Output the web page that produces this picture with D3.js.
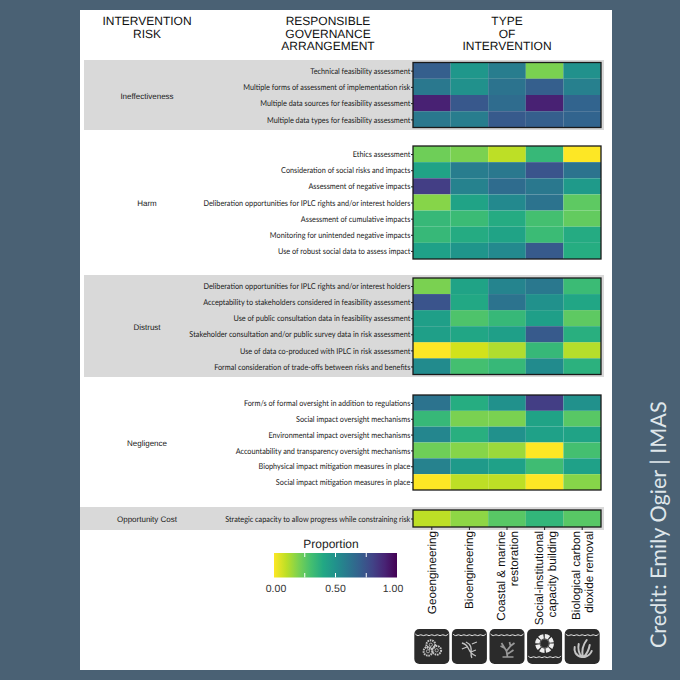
<!doctype html>
<html>
<head>
<meta charset="utf-8">
<title>Intervention risk heatmap</title>
<style>
* {padding:0;margin:0}
body {background:#4a6174;overflow:hidden}
svg text {text-rendering:geometricPrecision}
</style>
</head>
<body>
<div id="chart"></div>
<script src="https://d3js.org/d3.v7.min.js"></script>
<script>
	const interventions = ["Geoengineering", "Bioengineering", "Coastal & marine|restoration", "Social-institutional|capacity building", "Biological carbon|dioxide removal"];

	const ineffectivenessRows = ["Technical feasibility assessment", "Multiple forms of assessment of implementation risk", "Multiple data sources for feasibility assessment", "Multiple data types for feasibility assessment"];
	const ineffectivenessValues = [
		[.70, .47, .58, .20, .50],
		[.60, .50, .62, .70, .57],
		[.91, .73, .65, .91, .68],
		[.60, .58, .72, .70, .68]];

	const harmRows = ["Ethics assessment", "Consideration of social risks and impacts", "Assessment of negative impacts", "Deliberation opportunities for IPLC rights and/or interest holders", "Assessment of cumulative impacts", "Monitoring for unintended negative impacts", "Use of robust social data to assess impact"];
	const harmValues = [
		[.22, .20, .10, .33, .00],
		[.42, .58, .60, .74, .62],
		[.82, .56, .65, .60, .46],
		[.18, .42, .53, .62, .25],
		[.33, .32, .39, .30, .24],
		[.33, .39, .42, .32, .39],
		[.43, .48, .53, .72, .38]];

	const distrustRows = ["Deliberation opportunities for IPLC rights and/or interest holders", "Acceptability to stakeholders considered in feasibility assessment", "Use of public consultation data in feasibility assessment", "Stakeholder consultation and/or public survey data in risk assessment", "Use of data co-produced with IPLC in risk assessment", "Formal consideration of trade-offs between risks and benefits"];
	const distrustValues = [
		[.20, .42, .55, .60, .32],
		[.74, .40, .62, .50, .41],
		[.44, .28, .33, .44, .25],
		[.44, .41, .44, .72, .37],
		[.00, .07, .12, .33, .11],
		[.52, .30, .33, .52, .36]];

	const negligenceRows = ["Form/s of formal oversight in addition to regulations", "Social impact oversight mechanisms", "Environmental impact oversight mechanisms", "Accountability and transparency oversight mechanisms", "Biophysical impact mitigation measures in place", "Social impact mitigation measures in place"];
	const negligenceValues = [
		[.62, .38, .50, .82, .50],
		[.33, .20, .20, .42, .26],
		[.54, .37, .50, .43, .42],
		[.22, .18, .15, .00, .30],
		[.56, .46, .43, .31, .43],
		[.00, .10, .10, .00, .18]];

	const opportunityRows = ["Strategic capacity to allow progress while constraining risk"];
	const opportunityValues = [[.10, .17, .26, .34, .26]];

	const legendTicks = [0, .25, .5, .75, 1];
	const legendLabels = [0, .5, 1];

	// panel layout, data stays in the arrays above
	const panels = [
		{name: "Ineffectiveness", rows: ineffectivenessRows, values: ineffectivenessValues, top: 62.5, bottom: 127.5, band: [60, 130], bandLeft: 84},
		{name: "Harm", rows: harmRows, values: harmValues, top: 146, bottom: 259},
		{name: "Distrust", rows: distrustRows, values: distrustValues, top: 278, bottom: 374.5, band: [275, 377], bandLeft: 84},
		{name: "Negligence", rows: negligenceRows, values: negligenceValues, top: 395, bottom: 490},
		{name: "Opportunity Cost", rows: opportunityRows, values: opportunityValues, top: 510, bottom: 527, band: [507, 530], bandLeft: 80}
	];

	const sans = "'Liberation Sans', Arial, sans-serif";
	const labelFont = "Lato, sans-serif";

	const svg = d3.select("#chart").append("svg")
		.attr("width", 680)
		.attr("height", 680)
		.style("display", "block");

	svg.append("rect").attr("width", 680).attr("height", 680).attr("fill", "#4a6174");
	svg.append("rect").attr("x", 80).attr("y", 10).attr("width", 532).attr("height", 660).attr("fill", "#fff");

	const color = function(v) { return d3.interpolateViridis(1 - v); };
	const x = d3.scaleBand().domain(d3.range(5)).range([413, 601]);

	function heading(lines, cx, y0) {
		svg.append("text")
			.attr("font-family", sans)
			.attr("font-size", 12)
			.attr("fill", "#111")
			.attr("text-anchor", "middle")
			.selectAll("tspan").data(lines).enter()
			.append("tspan")
			.attr("x", cx)
			.attr("y", function(d, i) { return y0 + i * 12.5; })
			.text(function(d) { return d; });
	}
	heading(["INTERVENTION", "RISK"], 147, 25);
	heading(["RESPONSIBLE", "GOVERNANCE", "ARRANGEMENT"], 328, 25);
	heading(["TYPE", "OF", "INTERVENTION"], 507, 25);

	panels.forEach(function(p) {
		const y = d3.scaleBand().domain(d3.range(p.rows.length)).range([p.top, p.bottom]);

		if (p.band) {
			svg.append("rect")
				.attr("x", p.bandLeft)
				.attr("y", p.band[0])
				.attr("width", 604 - p.bandLeft)
				.attr("height", p.band[1] - p.band[0])
				.attr("fill", "#d9d9d9");
		}

		svg.append("text")
			.attr("x", 147)
			.attr("y", (p.top + p.bottom) / 2 + 3.5)
			.attr("text-anchor", "middle")
			.attr("font-family", sans)
			.attr("font-size", 8)
			.attr("fill", "#222")
			.text(p.name);

		const g = svg.append("g");
		p.values.forEach(function(row, r) {
			g.selectAll("rect.r" + r).data(row).enter()
				.append("rect")
				.attr("x", function(d, i) { return x(i); })
				.attr("y", y(r))
				.attr("width", x.bandwidth())
				.attr("height", y.bandwidth())
				.attr("fill", function(d) { return color(d); });
		});

		const axis = svg.append("g")
			.attr("transform", "translate(413,0.5)")
			.call(d3.axisLeft(y).tickSize(2).tickPadding(1).tickFormat(function(i) { return p.rows[i]; }));
		axis.select(".domain").remove();
		axis.selectAll("line").attr("stroke", "#222");
		// the original labels are a condensed face, squeeze Lato to the same widths
		axis.selectAll("text")
			.attr("font-family", labelFont)
			.attr("font-size", 8.2)
			.attr("fill", "#1a1a1a")
			.attr("transform", "scale(.89,1)");

		svg.append("rect")
			.attr("x", 413)
			.attr("y", p.top)
			.attr("width", 188)
			.attr("height", p.bottom - p.top)
			.attr("fill", "none")
			.attr("stroke", "#1a1a1a")
			.attr("stroke-width", 1.3);
	});

	// bottom axis ticks and rotated labels
	interventions.forEach(function(name, i) {
		const cx = x(i) + x.bandwidth() / 2;
		svg.append("line")
			.attr("x1", cx).attr("x2", cx)
			.attr("y1", 527).attr("y2", 530)
			.attr("stroke", "#222");
		const lines = name.split("|");
		const t = svg.append("text")
			.attr("transform", "translate(" + cx + ",531) rotate(-90)")
			.attr("text-anchor", "end")
			.attr("font-family", sans)
			.attr("font-size", 11.7)
			.attr("fill", "#111");
		lines.forEach(function(l, k) {
			t.append("tspan")
				.attr("x", 0)
				.attr("y", (lines.length === 1 ? 4 : (k === 0 ? -2 : 11)))
				.text(l);
		});
	});

	// legend
	const legendScale = d3.scaleLinear().domain([0, 1]).range([274, 397]);
	const defs = svg.append("defs");
	const grad = defs.append("linearGradient").attr("id", "legendGrad");
	d3.range(0, 1.01, .1).forEach(function(s) {
		grad.append("stop").attr("offset", s).attr("stop-color", color(s));
	});
	svg.append("rect")
		.attr("x", legendScale(0))
		.attr("y", 553)
		.attr("width", legendScale(1) - legendScale(0))
		.attr("height", 24.5)
		.attr("fill", "url(#legendGrad)");
	legendTicks.slice(1, 4).forEach(function(t) {
		svg.append("line").attr("x1", legendScale(t)).attr("x2", legendScale(t)).attr("y1", 553).attr("y2", 557).attr("stroke", "#fff");
		svg.append("line").attr("x1", legendScale(t)).attr("x2", legendScale(t)).attr("y1", 573).attr("y2", 577.5).attr("stroke", "#fff");
	});
	svg.append("text")
		.attr("x", 331).attr("y", 548)
		.attr("text-anchor", "middle")
		.attr("font-family", sans).attr("font-size", 12).attr("fill", "#222")
		.text("Proportion");
	svg.selectAll("text.leg").data(legendLabels).enter()
		.append("text")
		.attr("x", function(d) { return d === 0 ? 276 : d === 1 ? 393 : legendScale(d); })
		.attr("y", 592)
		.attr("text-anchor", "middle")
		.attr("font-family", sans).attr("font-size", 10.5).attr("fill", "#333")
		.text(function(d) { return d.toFixed(2); });

	// icon tiles
	const iconColor = "#c4c4c4";
	const waveLine = d3.line().curve(d3.curveBasis);
	function wave(g, yw) {
		const pts = d3.range(0, 13).map(function(k) { return [1 + k * 2.75, yw + (k % 2 ? 1.4 : -1)]; });
		g.append("path").attr("d", waveLine(pts)).attr("fill", "none").attr("stroke", "#eee").attr("stroke-width", 1);
	}
	function gears(g) {
		[[16.5, 15.7, 4.4], [13.7, 22.3, 4.4], [22.4, 21.3, 4.4]].forEach(function(c) {
			g.append("circle").attr("cx", c[0]).attr("cy", c[1]).attr("r", c[2]).attr("fill", "none").attr("stroke", iconColor).attr("stroke-width", 2).attr("stroke-dasharray", "1.6 .8");
			g.append("circle").attr("cx", c[0]).attr("cy", c[1]).attr("r", 1.6).attr("fill", "none").attr("stroke", iconColor).attr("stroke-width", .8);
		});
	}
	function dna(g) {
		g.append("path").attr("d", "M10 14 C19 16,14 23,24 27 M14 13 C23 17,17 24,20 29 M20 15 L25 13 M10 20 L15 18 M19 23 L24 21")
			.attr("fill", "none").attr("stroke", iconColor).attr("stroke-width", 1.3);
	}
	function coral(g) {
		g.append("path").attr("d", "M18 28 L17 22 L12 14 M15 19 L11 17 M17 22 L21 17 L20 13 M21 17 L25 14 M18 25 L24 21 M13 28 L24 28")
			.attr("fill", "none").attr("stroke", "#999").attr("stroke-width", 1.7);
	}
	function wheel(g) {
		const c = g.append("g").attr("transform", "translate(17.5,14.5)");
		c.append("circle").attr("r", 7.2).attr("fill", "none").attr("stroke", "#eee").attr("stroke-width", 4.4).attr("stroke-dasharray", "4.4 1.25");
		c.append("circle").attr("r", 4.4).attr("fill", "none").attr("stroke", "#888").attr("stroke-width", .6);
	}
	function weed(g) {
		g.append("path").attr("d", "M17 28 C11 27,9 22,10 18 M17 28 C14 24,13 20,14 15 M18 28 C17 22,18 16,22 11 M19 28 C22 25,24 22,25 16 M20 28 C23 27,26 25,27 22")
			.attr("fill", "none").attr("stroke", iconColor).attr("stroke-width", 2).attr("stroke-linecap", "round");
	}
	const iconFns = [gears, dna, coral, wheel, weed];
	iconFns.forEach(function(fn, i) {
		const g = svg.append("g").attr("transform", "translate(" + (x(i) + x.bandwidth() / 2 - 17.5) + ",629)");
		g.append("rect").attr("width", 35).attr("height", 35).attr("rx", 5).attr("fill", "#2b2b2b");
		wave(g, i === 3 ? 28 : 6);
		fn(g);
	});

	// credit
	svg.append("text")
		.attr("transform", "translate(666,648) rotate(-90)")
		.attr("font-family", labelFont)
		.attr("font-size", 21.6)
		.attr("fill", "#dfe6ea")
		.text("Credit: Emily Ogier | IMAS");
</script>
</body>
</html>
